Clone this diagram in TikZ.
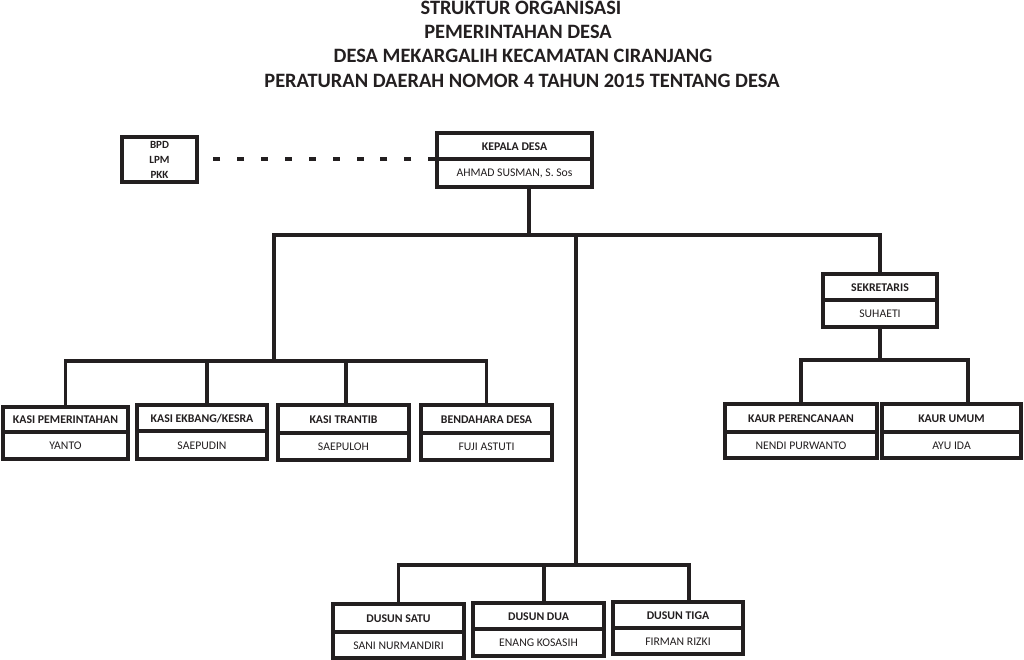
\documentclass[tikz,border=0pt]{standalone}
\usepackage{fontspec}
\setmainfont{Carlito}
\definecolor{ink}{RGB}{35,31,32}
\tikzset{
  boxs/.style={draw=ink, line width=3.6pt, rectangle, inner sep=0pt, fill=white},
  divline/.style={draw=ink, line width=3.2pt},
  conn/.style={draw=ink, line width=3.2pt, line cap=rect},
  hd/.style={font=\fontsize{11.8}{13}\selectfont\bfseries, text=ink, inner sep=0pt},
  nm/.style={font=\fontsize{11.7}{13}\selectfont, text=ink, inner sep=0pt},
  ttl/.style={font=\fontsize{20.4}{24}\selectfont\bfseries, text=ink, inner sep=0pt, anchor=base},
}
\newcommand\orgbox[8]{%
  \node[boxs, minimum width={#4-#2}, minimum height={#5-#3}] (#1) at ({(#2+#4)/2},{(#3+#5)/2}) {};
  \draw[divline] (#1.west |- 0,#6) -- (#1.east |- 0,#6);
  \node[hd] (#1t) at ({(#2+#4)/2},{(#3+#6)/2+0.5}) {#7};
  \node[nm] (#1p) at ({(#2+#4)/2},{(#6+#5)/2+0.5}) {#8};
}
\begin{document}
\begin{tikzpicture}[x=1pt,y=-1pt]
\useasboundingbox (0,0) rectangle (1024,660);
% title
\node[ttl] (t1) at (521,14.5) {STRUKTUR ORGANISASI};
\node[ttl] (t2) at (518,38.5) {PEMERINTAHAN DESA};
\node[ttl] (t3) at (523,62.5) {DESA MEKARGALIH KECAMATAN CIRANJANG};
\node[ttl] (t4) at (522,87.5) {PERATURAN DAERAH NOMOR 4 TAHUN 2015 TENTANG DESA};
% junction coordinates
\coordinate (b1L) at (274,235);
\coordinate (b1R) at (880,235);
\coordinate (b1C) at (576,235);
\coordinate (b2M) at (274,361);
\coordinate (b3M) at (576,565);
\coordinate (b4M) at (880,360);
% connectors first (under boxes)
\draw[conn] (b1L) -- (b1R);
\draw[conn] (b1L) -- (b2M);
\draw[conn] (b1C) -- (b3M);
% boxes
\node[boxs, minimum width=75, minimum height=45] (bpd) at (159.5,159.5) {};
\node[hd, align=center, font=\fontsize{11}{15}\selectfont\bfseries] (bpdt) at (159.5,160) {BPD\\LPM\\PKK};
\orgbox{kd}{437}{133}{592}{187}{159}{KEPALA DESA}{AHMAD SUSMAN, S. Sos}
\orgbox{sek}{823}{274}{937}{327}{300}{SEKRETARIS}{SUHAETI}
\orgbox{ka}{3}{407}{128}{459}{432}{KASI PEMERINTAHAN}{YANTO}
\orgbox{kb}{137}{405}{267}{459}{431}{KASI EKBANG/KESRA}{SAEPUDIN}
\orgbox{kc}{278}{405}{409}{460}{433}{KASI TRANTIB}{SAEPULOH}
\orgbox{kdb}{421}{405}{552}{460}{433}{BENDAHARA DESA}{FUJI ASTUTI}
\orgbox{kp}{725}{404}{877}{458}{432}{KAUR PERENCANAAN}{NENDI PURWANTO}
\orgbox{ku}{882}{404}{1021}{458}{432}{KAUR UMUM}{AYU IDA}
\orgbox{d1}{333}{604}{464}{658}{632}{DUSUN SATU}{SANI NURMANDIRI}
\orgbox{d2}{473}{603}{604}{656}{629}{DUSUN DUA}{ENANG KOSASIH}
\orgbox{d3}{613}{602}{743}{654}{628}{DUSUN TIGA}{FIRMAN RIZKI}
% dashed link
\draw[draw=ink, line width=3.8pt, dash pattern=on 7pt off 16.9pt] (kd.west |- 0,159) -- (bpd.east |- 0,159);
% kepala desa down
\draw[conn] ([xshift=14.5pt]kd.south) -- ([xshift=14.5pt]kd.south |- b1L);
% sekretaris
\draw[conn] (b1R) -- (sek.north);
\draw[conn] (sek.south) -- (b4M);
\draw[conn] (kp.north) |- (b4M);
\draw[conn] ([xshift=16.5pt]ku.north) |- (b4M);
% kasi row
\draw[conn] (ka.north) |- (b2M);
\draw[conn] ([xshift=5pt]kb.north) |- (b2M);
\draw[conn] ([xshift=2.5pt]kc.north) |- (b2M);
\draw[conn] (kdb.north) |- (b2M);
% dusun row
\draw[conn] (d1.north) |- (b3M);
\draw[conn] ([xshift=5.5pt]d2.north) |- (b3M);
\draw[conn] ([xshift=11pt]d3.north) |- (b3M);
\end{tikzpicture}
\end{document}
